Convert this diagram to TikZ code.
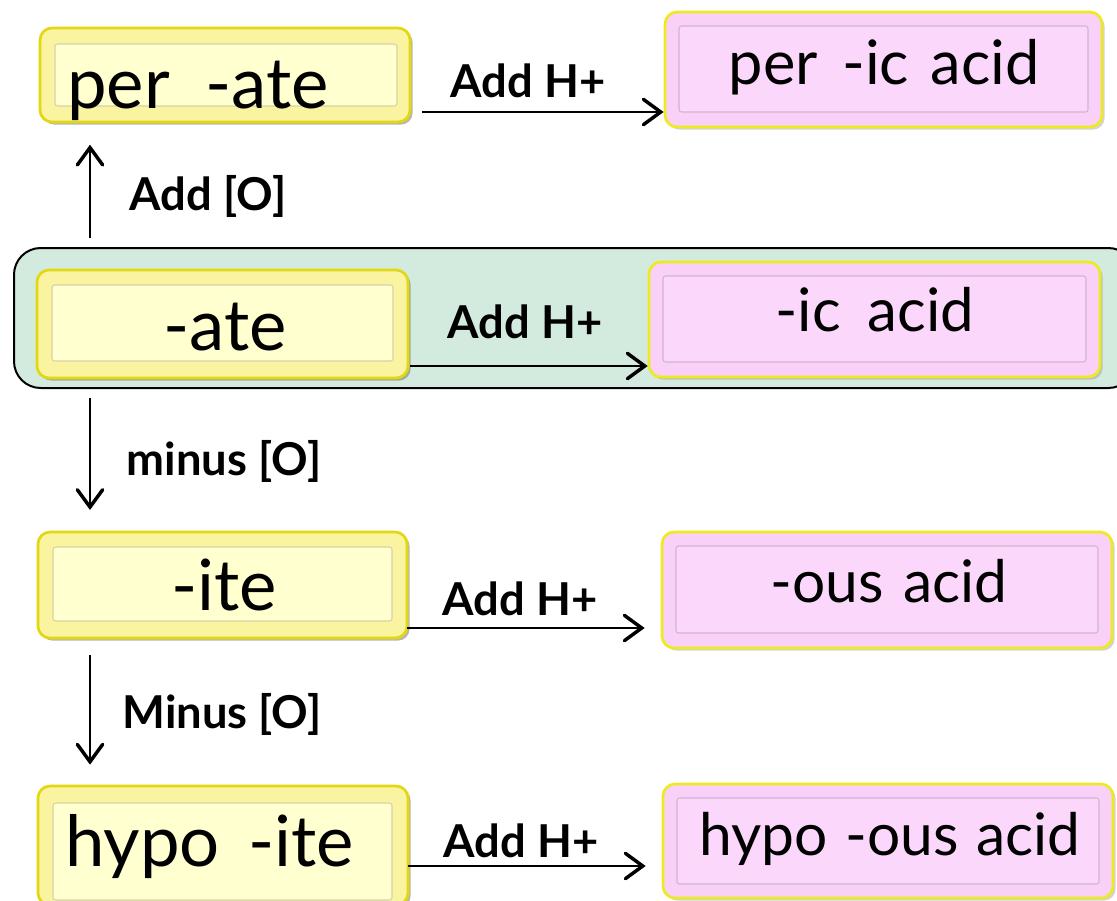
\documentclass[tikz,border=0pt]{standalone}
\usepackage{fontspec}
\setmainfont{Lato}
\usetikzlibrary{arrows.meta,shadows,fit}
\definecolor{yfill}{HTML}{FAF3A0}
\definecolor{yinfill}{HTML}{FFFFD0}
\definecolor{yedge}{HTML}{E2D812}
\definecolor{yin}{HTML}{D6D2A8}
\definecolor{pfill}{HTML}{F8D0F8}
\definecolor{pinfill}{HTML}{FBD8FB}
\definecolor{pedge}{HTML}{EEEA20}
\definecolor{pin}{HTML}{D2B4D2}
\definecolor{gfill}{HTML}{D3EBDF}
\begin{document}
\begin{tikzpicture}[x=0.75pt,y=-0.75pt,
  ybox/.style={draw=yedge,line width=2pt,fill=yfill,rounded corners=9pt,inner sep=0pt,
    drop shadow={shadow xshift=2pt,shadow yshift=-2pt,opacity=0.45,fill=black!70!yellow}},
  yinner/.style={draw=yin,line width=0.8pt,fill=yinfill,rounded corners=2pt,inner sep=0pt},
  pbox/.style={draw=pedge,line width=2pt,fill=pfill,rounded corners=9pt,inner sep=0pt,
    drop shadow={shadow xshift=2pt,shadow yshift=-2pt,opacity=0.35}},
  pinner/.style={draw=pin,line width=0.8pt,fill=pinfill,rounded corners=2pt,inner sep=0pt},
  gbox/.style={draw=black,line width=1.5pt,fill=gfill,rounded corners=20pt,inner sep=0pt},
  lmain/.style={font=\fontsize{53}{56}\selectfont,inner sep=0pt},
  rmain/.style={font=\fontsize{46}{50}\selectfont,inner sep=0pt},
  lbl/.style={font=\bfseries\fontsize{34}{38}\selectfont,inner sep=0pt},
  arr/.style={line width=1.5pt,-{Straight Barb[length=13pt,width=19pt,line width=2.6pt,line cap=round]}}
]
\useasboundingbox (0,0) rectangle (1117,900);

% highlight band
\node[gbox,fit={(14,248) (1135,388)}] (band) {};

% left (salt) boxes
\node[ybox,fit={(40,28) (410,122)}] (perate) {};
\node[yinner,fit={(55,44) (397,106)}] (perateI) {};
\node[ybox,fit={(37,270) (408,378)}] (ate) {};
\node[yinner,fit={(52,285) (393,361)}] (ateI) {};
\node[ybox,fit={(38,532) (407,638)}] (ite) {};
\node[yinner,fit={(53,547) (392,621)}] (iteI) {};
\node[ybox,fit={(38,786) (408,905)}] (hypoite) {};
\node[yinner,fit={(53,803) (392,900)}] (hypoiteI) {};

% right (acid) boxes
\node[pbox,fit={(665,12) (1102,127)}] (peric) {};
\node[pinner,fit={(679,26) (1088,112)}] (pericI) {};
\node[pbox,fit={(649,262) (1100,377)}] (ic) {};
\node[pinner,fit={(663,276) (1086,362)}] (icI) {};
\node[pbox,fit={(662,532) (1112,648)}] (ous) {};
\node[pinner,fit={(676,546) (1098,633)}] (ousI) {};
\node[pbox,fit={(663,784) (1113,898)}] (hypoous) {};
\node[pinner,fit={(677,798) (1099,884)}] (hypoousI) {};

% texts
\node[lmain,anchor=base west] (perateT) at (67,108) {per\hspace{0.5em}-ate};
\node[lmain,anchor=base] (ateT) at (225,350) {-ate};
\node[lmain,anchor=base] (iteT) at (224,610) {-ite};
\node[lmain,anchor=base west] (hypoiteT) at (65,866) {hypo\hspace{0.4em}-ite};
\node[rmain,anchor=base] (pericT) at (884,84) {per\hspace{0.4em}-ic\hspace{0.35em}acid};
\node[rmain,font=\fontsize{45}{50}\selectfont,anchor=base] (icT) at (875,331) {-ic\hspace{0.45em}acid};
\node[rmain,font=\fontsize{44}{50}\selectfont,anchor=base] (ousT) at (889,602) {-ous\hspace{0.33em}acid};
\node[rmain,font=\fontsize{44}{50}\selectfont,anchor=base] (hypoousT) at (890,855) {hypo\hspace{0.3em}-ous\hspace{0.3em}acid};

% horizontal connectors
\coordinate (h1) at (422,112);
\coordinate (h2) at (410,366);
\coordinate (h3) at (407,628);
\coordinate (h4) at (408,866);
\draw[arr] (h1) -- (h1 -| peric.west);
\draw[arr] (h2) -- (h2 -| ic.west);
\draw[arr] (h3) -- ([xshift=-12pt]h3 -| ous.west);
\draw[arr] (h4) -- ([xshift=-12pt]h4 -| hypoous.west);
\node[lbl,anchor=base] (l1) at (528,97) {Add H+};
\node[lbl,anchor=base] (l2) at (525,338) {Add H+};
\node[lbl,anchor=base] (l3) at (520,615) {Add H+};
\node[lbl,anchor=base] (l4) at (521,857) {Add H+};

% vertical connectors
\coordinate (v1) at (90,238);
\coordinate (v2) at (90,398);
\coordinate (v3) at (90,655);
\draw[arr] (v1) -- ([yshift=-16pt]v1 |- perate.south);
\draw[arr] (v2) -- ([yshift=-98pt]v2 |- ate.south);
\draw[arr] (v3) -- ([yshift=-94pt]v3 |- ite.south);
\node[lbl,anchor=base] (l5) at (208,210) {Add [O]};
\node[lbl,anchor=base] (l6) at (224,475) {minus [O]};
\node[lbl,anchor=base] (l7) at (222,728) {Minus [O]};
\end{tikzpicture}
\end{document}
